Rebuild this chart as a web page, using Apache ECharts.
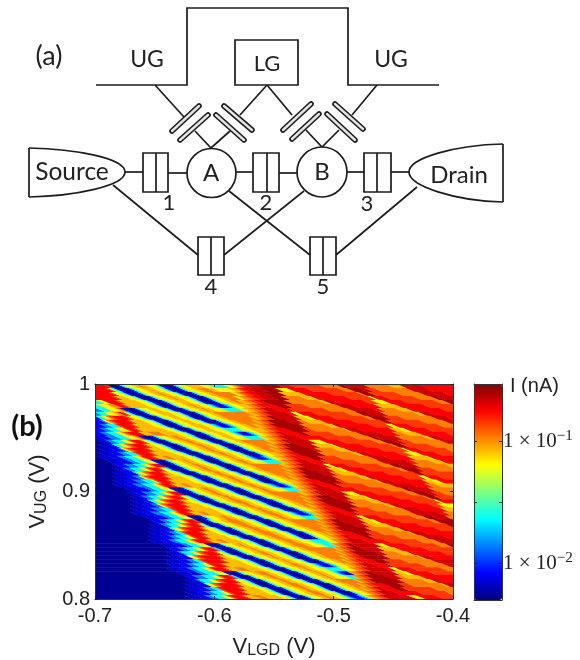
<!DOCTYPE html>
<html><head><meta charset="utf-8">
<style>html,body{margin:0;padding:0;background:#fff}#c{width:580px;height:660px}</style>
<script src="https://cdn.jsdelivr.net/npm/echarts@6/dist/echarts.min.js"></script>
</head><body><div id="c"></div>
<script>
// ---- Current map: one string per row, top row first ----
const levelChars = 'abcdefghijklmn';
const levelCurrents = [.0054,.0069,.0083,.0139,.0231,.0385,.0531,.0637,.0831,.106,.141,.176,.212,.249];
const runShorthand = {P:'i2h2geca3cegh2i2',T:'i2h2geca3cegh2i',R:'cegh2i2',Q:'i2h2gedc3degh2i2',W:'i2h2g2e5g2h2i2'};
// left part of each row: level letter + run length
const rowRuns = [
"l4ka3RjPi3hg2e5gh","l5kgeca3RPj3i2h2g2h2","l6kh2geca3RjPj8","l7kiPjPj5","e2ghl4ki4PPj3","e2gh2ij2l2ki5PjQ",
"d2e3gh2ikca3cegh2iPjW","de3gh2ijlkgeca3RPj11","ce2ghjkl4kih2geca3cegh2iPj9","c3dhjkl5ki2TPj6","c3d2e3kl4ki4PQj3","c3d2e3gh2kl2ki7TWj",
"c3d2e3ghjkl4i3j4i3TQ","b2c3d3e3gh2ikca3Rj2TW","a2b2cd2e3ghjl3khgeca3Rj2Pj8","a2b4ce2ghjkl4kPj2Pj5","a2b4c3dhjkl5ki2Pj2Pj3","a2b4c3d2e3kl4ki5Pj2P",
"a2b4c3d2e3ghjl3ki3j2i3PjQ","a5b4c3d2e3gh2ca3RjPj2W","a7bc3d3e3ghjl3ca3Rj2Pj10","a7b3cd2e3ghjl3khgeca3Rj2Pj8","a7b4c3eghjkl4kPj2Pj5","a7b4c3d2hjkl5ki3Pj2Pj2",
"a7b4c3d3e3gkl3ki5Pj2P","a7b4c3d3e3ghjl3ki3j2i3Pj2Q","a11b4c3d2e3gh2ca3Rj2Pj2W","a12b2c3d3e3ghjl3ca3Rj2Pj10","a13b3cd2e3ghjkl3khgeca3Rj2Pj7","a13b4c2e2ghjkl4kPj3Pj4",
"a13b4c3d2hjkl5ki3Pj2Pj2","a13b4c3d3e3kl4ki6Pj2P","a13b4c3d3e3ghjl3ki3j2i3Pj3Q","a17b4c3d2e3gh2ca3Rj2Pj2W","a19bc3d2e3ghjl3ka3Rj4Pj10","a19b4d2e3ghjkl3kgeca3Rj3Pj7",
"a19b4c3eghjkl5kih2geca3Rj3Pj5","a19b4c3d2e2kl5ki2Pj4Pj","a19b4c3d2e3ghkl3ki5Pj3P","a19b4c3d2e3ghjl4ki3j2i3Pj3W","a23b4c3d2e3gh2ca3RjPj4W","a25bc3d2e3ghjl3keca3RjPj11",
"a25b4de3ghjkl4khgeca3Rj2Pj8","a25b4c3ghjkl6kPjPj6","a25b4c3d2e2kl6ki3PjPj3","a25b4c3d2e3ghkl3ki6Pj2Q","a25b4c3d2e3ghjl4ki3j3i3PjW","a28b4c3d2e4gh2ca3Rj3PjQ",
"a31c3d3e3ghjl3keca3Rj2PjW","a31b4de3ghjkl4kh2geca3Rj2Pj7","a31b4c3ghjkl6kPj3Pj4","a31b4c3d2e2kl6ki3Pj2Pj","a31b4c3d2e3ghkl4ki5Pj3P","a31b4c3d2e3ghjl4ki3j3i3Pj2Q"
];
// right part of each row: start column, then level letter + end column
const rowEdges = [
"46i47j48k49l51m55n62l66k76j82n84m91j99i103m110l120","46i48j49k50l52m57n62i63h66l72k83j86n90m92k95j106m112l120","47h48i49j50k52l54m58n63i70l79k89j90n93k102j110m118l120",
"48h49i50j52k54l56m60n64j70i74m75l85k93h94l98k108j114n116m120","49i51j53k55l57n65j76i78m81l91k94i95h98l104k115j118n120","50i52j54k56m57l61n65k71j82m87l95i102l111k120",
"51i53j55k57m61l65n66k78j86m94l96j102i106m107l117k120","52i54j56k58m65l67h69l74k85j89n92m97j108i110m113l120","53i55j57k59n61m68i71h73l80k91j93n98k103j114m119l120",
"54i55j57k59n65m69j71i77l87k97n99k110j118m120","54i56j58k60n69m70j78i81m83l93k99h101l106k116j120","55i57j59k61l65n71k73j84i85m89l100i103h105l112k120",
"56i58j60k62m64l69n71k80j89m96l101j104i109l119k120","57i59j61k63m69l77k87j93n95m102j111i113m116l120","58i60j62k64n65m73i74h77l83k94j97n101m103k106j117m120",
"59i60j62k64n69m74i80h81l90k100j101n104k113j120","60i61j63k65n73m75j81i85m86l96k104h105l109k119j120","60i62j64k66l68n76j87i89m92l102k105i106h109l115k120",
"61i63j65k67m68l72n76k82j93m98l106i112h113l120","62i64j66k68m72l76n77k88j96m105l107j113i117m118l120","63i65j67k69m76l78h80l85k96j100n103m108j119i120",
"64i65j67k69n72m79i82h84l91k102j104n109k114j120","65i66j68k70n76m80j82i88l98k108n110k120","66i67j69k71n80m81j89i92m94l104k110h112l116k120",
"66i68j70k72l76n82k84j95i96m100l111i114h116l120","67i69j71k73m76l80n82k91j100m107l112j115i120","68i70j72k74m80l88k98j104n106m113j120",
"69i71j73k75n76m84i85h88l94k105j108n112m114k117j120","70i71j73k75n80m85i91h92l101k111j112n115k120","71i72j74k76n84m86j92i96m97l107k115h116l120",
"72i73j75k77l79n87j98i100m103l113k116i117h120","73i74j76k78m79l83n87k93j104m109l117i120","73i75j77k79m83l87n88k99j107m116l118j120",
"74i76j78k80m87l89h91l96k107j111n114m119j120","75i76j78k80n83m90i93h95l102k113j115n120","76i77j79k81n87m91j93i99l109k119n120",
"77i78j80k82n91m92j100i103m105l115k120","78i79j81k83l87n92k96j106i107m111l120","79i80j82k84m86l91n93k102j111m118l120",
"80i81j83k85m91l98k109j115n116m120","80i81j83k85n87m95i96h98l105k115j119n120","81i82j84k86n90m96i102l111k120",
"82i83j85k87n95m97j102i106m107l117k120","83i84j86k88l90n98j109i110m113l120","84i85j87k89m90l94n98k104j114m120",
"85i86j88k90m94l98n99k110j118m120","86i87j89k91m98l100h102l107k117j120","86i87j89k91n94m101i104h106l113k120",
"87i88j90k92n98m102j104i110l120","88i89j91k93n102m103j111i114m116l120","89i90j92k94l98n103k106j117i118m120",
"90i91j93k95m97l101n104k114j120","91i92j94k96m101l109k119j120","92i93j95k97m106i107h109l115k120"
];
const colCount = 120;
const cellLean = 2.74;   // fringes run down-right by this many px per px of height
const xRange = [-0.7, -0.4];
const yRange = [0.8, 1];
const colorLogRange = [-2.30, -0.533];
const colorTicks = [-2, -1.5, -1];
const colorLabels = [-2, -1];
const jetColors = ['#00007f','#0000ff','#007fff','#00ffff','#7fff7f','#ffff00','#ff7f00','#ff0000','#7f0000'];

// ---- Schematic (a) ----
const wires = [
 [[96,85],[187,85],[187,8],[348,8],[348,85],[439,85]],
 [[155,85],[184,117]],[[267,85],[240,115]],[[267,85],[292,115]],[[377,85],[352,115]],
 [[195,131],[211,148],[230,131]],[[306,130],[322,147],[339,130]],
 [[125,172],[143,172]],[[168,173],[187,173]],[[236,172],[253,172]],[[279,173],[297,173]],[[347,172],[364,172]],[[391,172],[409,172]],
 [[113,185],[198,255]],[[224,255],[304,191]],[[229,191],[310,255]],[[336,255],[417,187]],
 [[29,148],[29,197]],[[503,144],[503,202]]
];
const plates = [
 [[199,106],[172,131]],[[208,115],[180,140]],[[224,106],[252,130]],[[216,115],[244,140]],
 [[311,104],[283,130]],[[319,114],[292,139]],[[335,104],[363,129]],[[327,114],[355,140]]
];
const boxes = [[143,153,25,39,156],[253,153,26,39,267],[364,153,27,39,377],[198,237,26,38,211],[310,237,26,38,323]];
const dots = [[211.5,173,24.5],[322,172,25]];
const leadCurves = [
 [29,148,75,149,125,158,125,172],[125,172,125,186,75,196,29,197],
 [503,144,455,145,409,158,409,172],[409,172,409,186,455,201,503,202]
];
const labels = [
 ['(a)',49,56,27],['UG',147,60,23],['UG',391,60,23],['LG',267,64,22],['Source',72,172,24.5],['Drain',459,175,24],
 ['A',211,173,24],['B',322,172,24],['1',169,203,22],['2',266,203,22],['3',367,204,22],['4',211,287,22],['5',323,287,22]
];

// ---- Build ----
function expandRow(run, edge){
  const cells = [];
  run.replace(/[PTRQW]/g, m => runShorthand[m]).replace(/([a-n])(\d*)/g, (_, ch, n) => {
    for (let i = 0; i < (n ? +n : 1); i++) cells.push(ch);
  });
  while (cells.length < colCount) cells.push(cells[cells.length - 1]);
  let pos = parseInt(edge, 10);
  edge.replace(/^\d+/, '').replace(/([a-n])(\d+)/g, (_, ch, end) => {
    for (; pos < +end && pos < colCount; pos++) cells[pos] = ch;
  });
  return cells.slice(0, colCount);
}
const dx = (xRange[1] - xRange[0]) / colCount, dy = (yRange[1] - yRange[0]) / rowRuns.length;
const heatData = [];
rowRuns.forEach((run, r) => {
  const cells = expandRow(run, rowEdges[r]);
  const yMid = yRange[1] - (r + .5) * dy;
  for (let c = 0; c < colCount;) {
    let e = c + 1;
    while (e < colCount && cells[e] === cells[c]) e++;
    heatData.push([xRange[0] + c * dx, xRange[0] + e * dx, yMid, Math.log10(levelCurrents[levelChars.indexOf(cells[c])]), c === 0 ? 1 : 0, e === colCount ? 1 : 0]);
    c = e;
  }
});

const ink = '#1c1c1c';
const graphic = [];
wires.forEach(w => graphic.push({type:'polyline', shape:{points:w}, style:{stroke:ink, lineWidth:1.7, fill:null}}));
plates.forEach(p => {
  const shape = {x1:p[0][0], y1:p[0][1], x2:p[1][0], y2:p[1][1]};
  graphic.push({type:'line', shape, style:{stroke:ink, lineWidth:5.6, lineCap:'round'}});
  graphic.push({type:'line', shape, style:{stroke:'#e4e4e4', lineWidth:2.4, lineCap:'round'}});
});
leadCurves.forEach(b => graphic.push({type:'bezierCurve',
  shape:{x1:b[0], y1:b[1], cpx1:b[2], cpy1:b[3], cpx2:b[4], cpy2:b[5], x2:b[6], y2:b[7]},
  style:{stroke:ink, lineWidth:1.7, fill:null}}));
boxes.forEach(b => {
  graphic.push({type:'rect', shape:{x:b[0], y:b[1], width:b[2], height:b[3]}, style:{stroke:ink, lineWidth:1.7, fill:'#fff'}});
  graphic.push({type:'line', shape:{x1:b[4], y1:b[1], x2:b[4], y2:b[1]+b[3]}, style:{stroke:ink, lineWidth:1.7}});
});
dots.forEach(d => graphic.push({type:'circle', shape:{cx:d[0], cy:d[1], r:d[2]}, style:{stroke:ink, lineWidth:1.7, fill:'#fff'}}));
graphic.push({type:'rect', shape:{x:235, y:40, width:63, height:45}, style:{stroke:ink, lineWidth:1.7, fill:'#fff'}});
labels.forEach(t => graphic.push({type:'text', style:{text:t[0], x:t[1], y:t[2], font:t[3]+'px Lato', fill:'#222', align:'center', verticalAlign:'middle'}}));
graphic.push({type:'text', style:{text:'(b)', x:27, y:427, font:'bold 29px Lato', fill:'#111', align:'center', verticalAlign:'middle'}});
graphic.push({type:'text', style:{text:'I (nA)', x:510, y:386, font:'20px "Liberation Sans"', fill:'#222', align:'left', verticalAlign:'middle'}});

const sans = '"Liberation Sans"';
const frameLine = {show:true, onZero:false, lineStyle:{color:'#333', width:1}};
const tick = {show:true, inside:true, length:3, lineStyle:{color:'#222', width:1}};
const subName = {
  v:{fontFamily:sans, fontSize:22, color:'#222'},
  s:{fontFamily:sans, fontSize:16, color:'#222', padding:[9,0,0,0]}
};
const bare = {axisLabel:{show:false}, splitLine:{show:false}, z:5};

const option = {
  animation:false,
  graphic,
  grid:[
    {left:95, top:384, width:358, height:216},
    {left:474, top:384, width:28, height:216}
  ],
  visualMap:{
    type:'continuous', min:colorLogRange[0], max:colorLogRange[1], dimension:3, seriesIndex:0,
    inRange:{color:jetColors}, calculable:false, hoverLink:false, itemWidth:28, itemHeight:216,
    left:474, top:384, padding:0, text:null, orient:'vertical'
  },
  xAxis:[
    {type:'value', gridIndex:0, min:xRange[0], max:xRange[1], interval:0.1, position:'bottom',
     axisLine:frameLine, axisTick:tick, splitLine:{show:false}, z:5,
     axisLabel:{fontFamily:sans, fontSize:20, color:'#222', margin:7},
     name:'{v|V}{s|LGD}{v| (V)}', nameLocation:'middle', nameGap:35, nameTextStyle:{rich:subName}},
    Object.assign({type:'value', gridIndex:0, min:xRange[0], max:xRange[1], interval:0.1, position:'top', axisLine:frameLine, axisTick:tick}, bare),
    Object.assign({type:'value', gridIndex:1, min:0, max:1, position:'bottom', axisLine:frameLine, axisTick:{show:false}}, bare),
    Object.assign({type:'value', gridIndex:1, min:0, max:1, position:'top', axisLine:frameLine, axisTick:{show:false}}, bare)
  ],
  yAxis:[
    {type:'value', gridIndex:0, min:yRange[0], max:yRange[1], interval:0.1, position:'left',
     axisLine:frameLine, axisTick:tick, splitLine:{show:false}, z:5,
     axisLabel:{fontFamily:sans, fontSize:20, color:'#222', margin:5},
     name:'{v|V}{s|UG}{v| (V)}', nameLocation:'middle', nameGap:45, nameTextStyle:{rich:subName}},
    Object.assign({type:'value', gridIndex:0, min:yRange[0], max:yRange[1], interval:0.1, position:'right', axisLine:frameLine, axisTick:tick}, bare),
    {type:'value', gridIndex:1, min:colorLogRange[0], max:colorLogRange[1], position:'right',
     axisLine:frameLine, splitLine:{show:false}, z:5,
     axisTick:Object.assign({}, tick, {customValues:colorTicks}),
     axisLabel:{customValues:colorLabels, margin:1,
       formatter:v => '{m|1 × 10}{e|−' + Math.abs(v) + '}',
       rich:{m:{fontFamily:'"Liberation Serif"', fontSize:21, color:'#222'},
             e:{fontFamily:'"Liberation Serif"', fontSize:15, color:'#222', padding:[0,0,10,0]}}}},
    Object.assign({type:'value', gridIndex:1, min:colorLogRange[0], max:colorLogRange[1], position:'left', axisLine:frameLine,
      axisTick:Object.assign({}, tick, {customValues:colorTicks})}, bare)
  ],
  series:[{
    type:'custom', xAxisIndex:0, yAxisIndex:0, silent:true, progressive:0, clip:true,
    encode:{x:[0,1], y:2}, data:heatData, z:2,
    renderItem(params, api){
      const a = api.coord([api.value(0), api.value(2)]);
      const z = api.coord([api.value(1), api.value(2)]);
      const h = api.size([0, dy])[1];
      const lean = h * cellLean / 2;
      const l = a[0] - (api.value(4) ? 20 : 0);
      const r = z[0] + .8 + (api.value(5) ? 20 : 0);
      const t = a[1] - h/2, b = a[1] + h/2 + .6;
      const points = echarts.graphic.clipPointsByRect(
        [[l - lean, t], [r - lean, t], [r + lean, b], [l + lean, b]],
        {x:params.coordSys.x, y:params.coordSys.y, width:params.coordSys.width, height:params.coordSys.height});
      return {type:'polygon', shape:{points}, style:{fill:api.visual('color')}};
    }
  }]
};
echarts.init(document.getElementById('c'), null, {renderer:'canvas'}).setOption(option);
</script></body></html>
